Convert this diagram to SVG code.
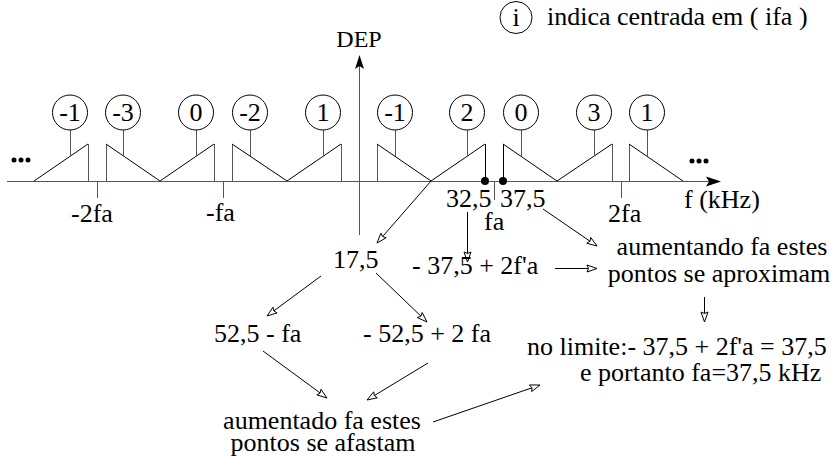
<svg xmlns="http://www.w3.org/2000/svg" width="839" height="456" viewBox="0 0 839 456">
<rect width="839" height="456" fill="#fff"/>

<g id="axes">
<line stroke="#555" x1="7" y1="181.5" x2="712" y2="181.5"/>
<path d="M721,181.5 L706,176.5 L709,181.5 L706,186.5 z" fill="#000"/>
<line stroke="#555" x1="359.5" y1="235" x2="359.5" y2="64"/>
<path d="M359.5,55 L355,69 L359.5,66 L364,69 z" fill="#000"/>
<g fill="#000"><circle cx="14" cy="160" r="2.5"/><circle cx="21" cy="160" r="2.5"/><circle cx="28" cy="160" r="2.5"/>
<circle cx="692" cy="161" r="2.5"/><circle cx="699" cy="161" r="2.5"/><circle cx="706" cy="161" r="2.5"/></g>
<text x="359" y="47" font-family="Liberation Serif" font-size="24" text-anchor="middle">DEP</text>
<text x="684" y="208" font-family="Liberation Serif" font-size="26">f (kHz)</text>
</g>

<g id="ticks">
<g stroke="#555">
<line x1="97.5" y1="181" x2="97.5" y2="198"/>
<line x1="223.5" y1="181" x2="223.5" y2="198"/>
<line x1="494.5" y1="181" x2="494.5" y2="200"/>
<line x1="621.5" y1="181" x2="621.5" y2="198"/>
</g>
<circle cx="485" cy="181" r="4" fill="#000"/>
<circle cx="503" cy="181" r="4" fill="#000"/>
<text x="71" y="222" font-family="Liberation Serif" font-size="26">-2fa</text>
<text x="206" y="221" font-family="Liberation Serif" font-size="26">-fa</text>
<text x="446" y="207" font-family="Liberation Serif" font-size="26">32,5</text>
<text x="500" y="207" font-family="Liberation Serif" font-size="26">37,5</text>
<text x="484" y="230" font-family="Liberation Serif" font-size="26">fa</text>
<text x="608" y="222" font-family="Liberation Serif" font-size="26">2fa</text>
</g>

<g id="spectrum" fill="none" stroke="#000">
<polyline points="34,181 88,144"/><line stroke="#555" x1="88.5" y1="144" x2="88.5" y2="181"/>
<line stroke="#555" x1="106.5" y1="181" x2="106.5" y2="144"/><polyline points="106,144 160,181"/>
<polyline points="160,181 214,144"/><line stroke="#555" x1="214.5" y1="144" x2="214.5" y2="181"/>
<line stroke="#555" x1="232.5" y1="181" x2="232.5" y2="144"/><polyline points="232,144 287,181"/>
<polyline points="287,181 341,144"/><line stroke="#555" x1="341.5" y1="144" x2="341.5" y2="181"/>
<line stroke="#555" x1="377.5" y1="181" x2="377.5" y2="144"/><polyline points="377,144 431,181"/>
<polyline points="431,181 485,144"/><line x1="485.5" y1="144" x2="485.5" y2="181"/>
<line x1="503.5" y1="181" x2="503.5" y2="144"/><polyline points="503,144 557,181"/>
<polyline points="557,181 612,144"/><line stroke="#555" x1="612.5" y1="144" x2="612.5" y2="181"/>
<line stroke="#555" x1="629.5" y1="181" x2="629.5" y2="144"/><polyline points="629,144 683,181"/>
</g>

<g id="labels">
<g stroke="#555">
<line x1="70.5" y1="130" x2="70.5" y2="156"/>
<line x1="123.5" y1="130" x2="123.5" y2="156"/>
<line x1="196.5" y1="130" x2="196.5" y2="156"/>
<line x1="250.5" y1="130" x2="250.5" y2="156"/>
<line x1="323.5" y1="130" x2="323.5" y2="156"/>
<line x1="395.5" y1="130" x2="395.5" y2="156"/>
<line x1="467.5" y1="130" x2="467.5" y2="156"/>
<line x1="521.5" y1="130" x2="521.5" y2="156"/>
<line x1="594.5" y1="130" x2="594.5" y2="156"/>
<line x1="647.5" y1="130" x2="647.5" y2="156"/>
</g>
<g fill="#fff" stroke="#000">
<circle cx="70" cy="112.5" r="17.5"/>
<circle cx="123" cy="112.5" r="17.5"/>
<circle cx="196" cy="112.5" r="17.5"/>
<circle cx="250" cy="112.5" r="17.5"/>
<circle cx="323" cy="112.5" r="17.5"/>
<circle cx="395" cy="112.5" r="17.5"/>
<circle cx="467" cy="112.5" r="17.5"/>
<circle cx="521" cy="112.5" r="17.5"/>
<circle cx="594" cy="112.5" r="17.5"/>
<circle cx="647" cy="112.5" r="17.5"/>
</g>
<text x="70" y="121" font-family="Liberation Serif" font-size="26" text-anchor="middle">-1</text>
<text x="123" y="121" font-family="Liberation Serif" font-size="26" text-anchor="middle">-3</text>
<text x="196" y="121" font-family="Liberation Serif" font-size="26" text-anchor="middle">0</text>
<text x="250" y="121" font-family="Liberation Serif" font-size="26" text-anchor="middle">-2</text>
<text x="323" y="121" font-family="Liberation Serif" font-size="26" text-anchor="middle">1</text>
<text x="395" y="121" font-family="Liberation Serif" font-size="26" text-anchor="middle">-1</text>
<text x="467" y="121" font-family="Liberation Serif" font-size="26" text-anchor="middle">2</text>
<text x="521" y="121" font-family="Liberation Serif" font-size="26" text-anchor="middle">0</text>
<text x="594" y="121" font-family="Liberation Serif" font-size="26" text-anchor="middle">3</text>
<text x="647" y="121" font-family="Liberation Serif" font-size="26" text-anchor="middle">1</text>
</g>

<g id="legend">
<circle cx="516" cy="17.5" r="16" fill="#fff" stroke="#000"/>
<text x="516" y="26" font-family="Liberation Serif" font-size="26" text-anchor="middle">i</text>
<text x="547" y="25" font-family="Liberation Serif" font-size="26">indica centrada em ( ifa )</text>
</g>

<g id="connectors" stroke="#000">
<line x1="431" y1="181" x2="382.6" y2="236.6"/>
<line x1="467.5" y1="212" x2="467.5" y2="253.5"/>
<line x1="543" y1="209" x2="590" y2="241.2"/>
<line x1="555" y1="268.5" x2="588.5" y2="268.5"/>
<line x1="704.5" y1="297" x2="704.5" y2="313.5"/>
<line x1="321" y1="276" x2="273.8" y2="310.9"/>
<line x1="376" y1="273" x2="420.9" y2="316.1"/>
<line x1="263" y1="351" x2="320.2" y2="393"/>
<line x1="428" y1="363" x2="374.3" y2="395.6"/>
<line x1="433" y1="422" x2="532" y2="387.8"/>
<g fill="#fff">
<polygon points="377,243 380.93,233.16 382.58,236.59 386.21,237.76"/>
<polygon points="467.5,262 464,252 467.5,253.5 471,252"/>
<polygon points="597,246 586.77,243.24 589.99,241.2 590.73,237.46"/>
<polygon points="597,268.5 587,272 588.5,268.5 587,265"/>
<polygon points="704.5,322 701,312 704.5,313.5 708,312"/>
<polygon points="267,316 272.96,307.24 273.83,310.94 277.12,312.86"/>
<polygon points="427,322 417.36,317.59 420.87,316.11 422.22,312.55"/>
<polygon points="327,398 316.87,394.9 320.15,392.97 321.01,389.26"/>
<polygon points="367,400 373.73,391.82 374.27,395.59 377.37,397.8"/>
<polygon points="540,385 531.69,391.58 531.97,387.78 529.41,384.96"/>
</g>
</g>

<g id="n175"><text x="333" y="268" font-family="Liberation Serif" font-size="26">17,5</text></g>
<g id="n_expr1"><text x="412" y="274" font-family="Liberation Serif" font-size="26">- 37,5 + 2f'a</text></g>
<g id="n_aprox"><text x="722" y="255" font-family="Liberation Serif" font-size="26" text-anchor="middle">aumentando fa estes</text><text x="719" y="282" font-family="Liberation Serif" font-size="26" text-anchor="middle">pontos se aproximam</text></g>
<g id="n_limite"><text x="527" y="355" font-family="Liberation Serif" font-size="26">no limite:- 37,5 + 2f'a = 37,5</text><text x="580" y="381" font-family="Liberation Serif" font-size="26">e portanto fa=37,5 kHz</text></g>
<g id="n_525"><text x="214" y="342" font-family="Liberation Serif" font-size="26">52,5 - fa</text></g>
<g id="n_m525"><text x="363" y="342" font-family="Liberation Serif" font-size="26">- 52,5 + 2 fa</text></g>
<g id="n_afast"><text x="322" y="429" font-family="Liberation Serif" font-size="26" text-anchor="middle">aumentado fa estes</text><text x="323" y="451" font-family="Liberation Serif" font-size="26" text-anchor="middle">pontos se afastam</text></g>
</svg>
